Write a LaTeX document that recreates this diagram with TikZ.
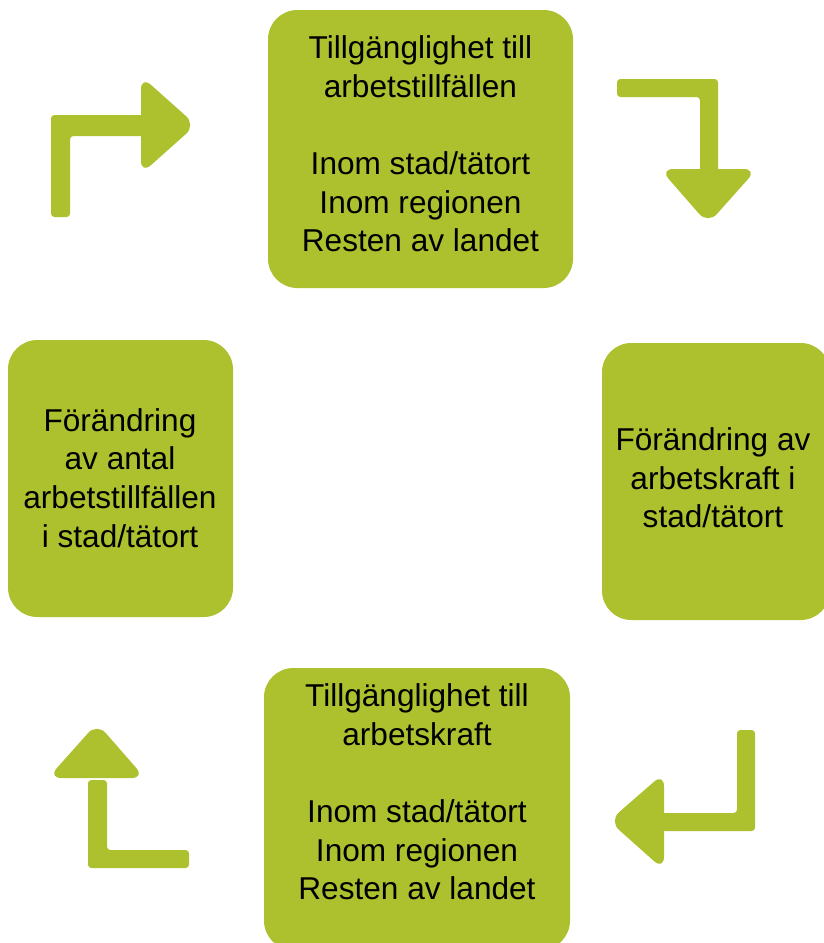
\documentclass[tikz,border=0pt]{standalone}
\usepackage{fontspec}
\setmainfont{Liberation Sans}
\definecolor{gron}{RGB}{173,193,46}

\begin{document}
\begin{tikzpicture}[x=0.75pt,y=-0.75pt,
    ruta/.style={fill=gron,rounded corners=22pt,inner sep=0pt},
    pil/.style={fill=gron,rounded corners=2.5pt},
    spets/.style={fill=gron,rounded corners=10pt},
    txt/.style={align=center,font=\fontsize{23.7}{29}\selectfont}]
  \useasboundingbox (0,0) rectangle (824,943);
  % rutor
  \node[ruta,minimum width=228.75pt,minimum height=208.5pt] (jobb) at (420.5,149) {};
  \node[ruta,minimum width=171pt,minimum height=207.75pt] (kraft) at (716,481.5) {};
  \node[ruta,minimum width=168.75pt,minimum height=207.75pt] (antal) at (120.5,478.5) {};
  \node[ruta,minimum width=229.5pt,minimum height=211.5pt] (tillg) at (417,809) {};
  \node[txt] (jobbtxt) at (420.5,144) {Tillgänglighet till\\arbetstillfällen\\[29pt]Inom stad/tätort\\Inom regionen\\Resten av landet};
  \node[txt] (krafttxt) at (713,478) {Förändring av\\arbetskraft i\\stad/tätort};
  \node[txt] (antaltxt) at (120,478) {Förändring\\av antal\\arbetstillfällen\\i stad/tätort};
  \node[txt] (tillgtxt) at (417,792) {Tillgänglighet till\\arbetskraft\\[29pt]Inom stad/tätort\\Inom regionen\\Resten av landet};
  % pilar
  \fill[pil] (51,217) -- (51,115) -- (145,115) -- (145,136) -- (70,136) -- (70,217) -- cycle;
  \fill[spets] (141,76) -- (196,125) -- (141,174) -- cycle;
  \fill[pil] (617,79) -- (718,79) -- (718,173) -- (700,173) -- (700,97) -- (617,97) -- cycle;
  \fill[spets] (660,169) -- (757,169) -- (708,224) -- cycle;
  \fill[pil] (755,730) -- (755,831) -- (660,831) -- (660,813) -- (737,813) -- (737,730) -- cycle;
  \fill[spets] (664,773) -- (664,870) -- (609,821) -- cycle;
  \fill[pil] (88,780) -- (88,868) -- (189,868) -- (189,850) -- (107,850) -- (107,780) -- cycle;
  \fill[spets] (48,778) -- (145,778) -- (97,723) -- cycle;
\end{tikzpicture}
\end{document}
